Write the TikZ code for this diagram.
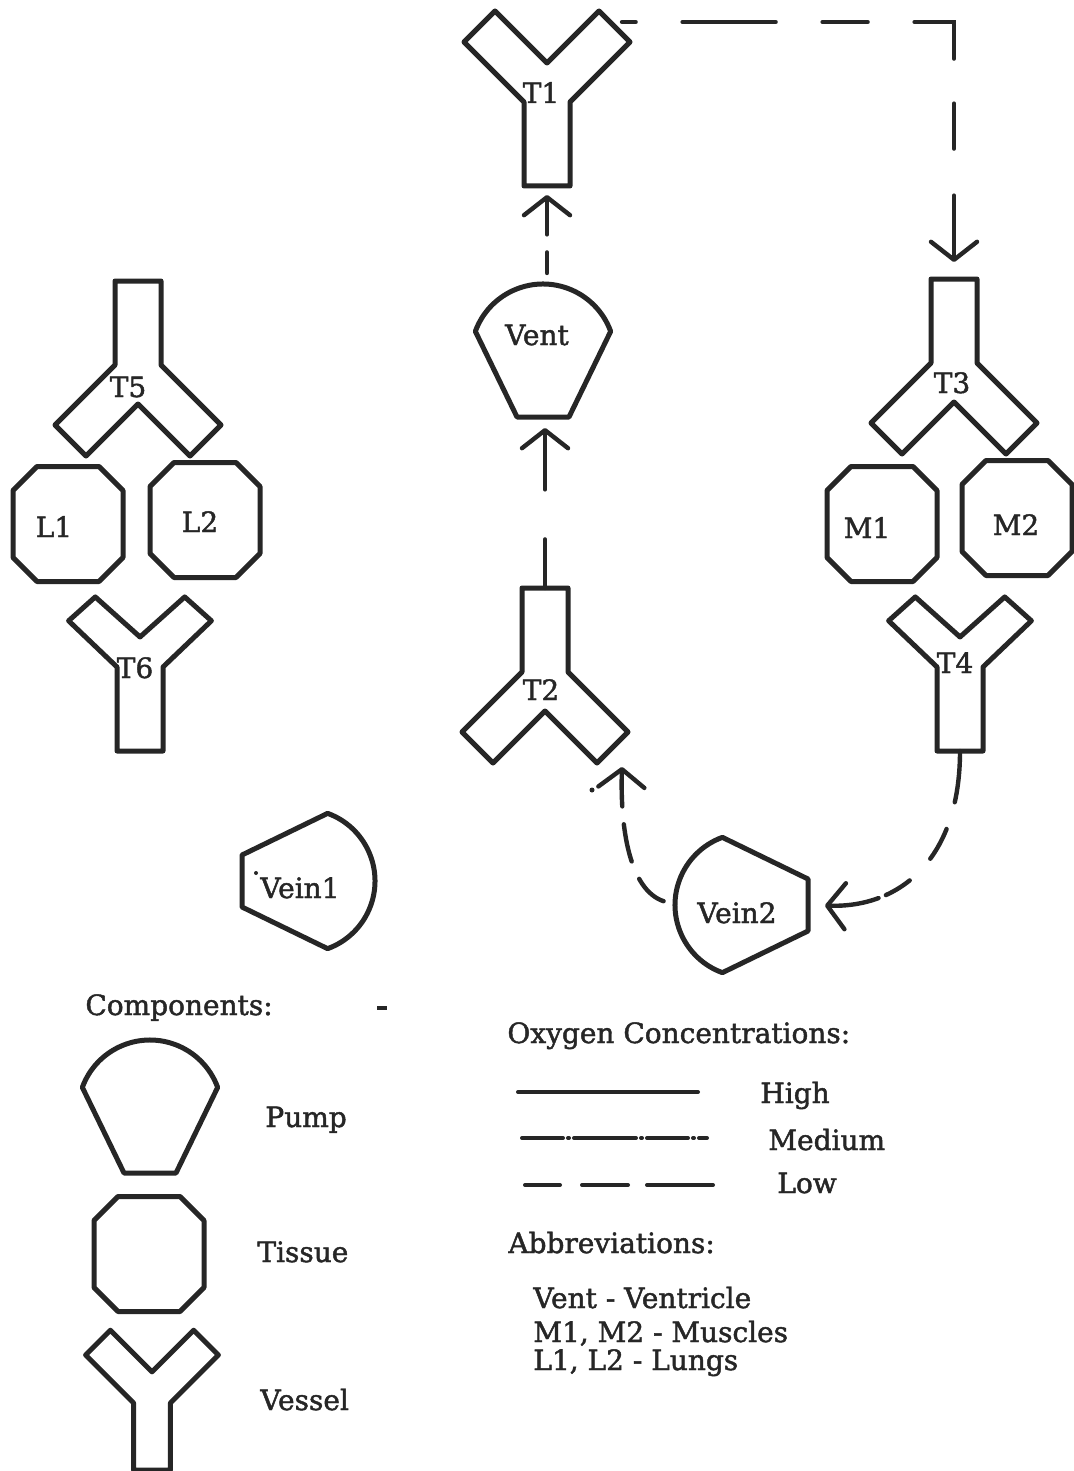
\documentclass[tikz,border=0pt]{standalone}
\usepackage{fontspec}
\setmainfont{DejaVu Serif}[BoldFont={DejaVu Serif}, BoldFeatures={FakeBold=1.6}]
\usetikzlibrary{arrows.meta,calc}
\definecolor{ink}{HTML}{262626}
\tikzset{
  outline/.style={draw=ink, line width=2.5pt, line join=round, line cap=round},
  flow/.style={draw=ink, line width=2.2pt, line cap=round},
  back/.style={arrows={Straight Barb[length=9pt,width=23pt,round]-}},
  lbl/.style={inner sep=0pt, anchor=base, text=ink, font=\fontsize{14pt}{16pt}\selectfont\bfseries},
  txt/.style={inner sep=0pt, anchor=base west, text=ink, font=\fontsize{14pt}{16pt}\selectfont\bfseries},
  % Y-shaped vessel; #1, #2 stretch the two arms horizontally and vertically
  pics/vessel/.style 2 args={code={
    \path[outline] (-23,0) -- ({-83*#1},{-60*#2}) -- ({-52*#1},{-91*#2}) -- (0,{-39*#2})
      -- ({52*#1},{-91*#2}) -- ({83*#1},{-60*#2}) -- (23,0) -- (23,84) -- (-23,84) -- cycle;
    \coordinate (-foot) at (0,84);
    \coordinate (-rarm) at ({68*#1},{-76*#2});
  }},
  % octagonal tissue block
  pics/tissue/.style={code={
    \path[outline] (-31,-57.5) -- (31,-57.5) -- (55,-33.5) -- (55,33.5) -- (31,57.5)
      -- (-31,57.5) -- (-55,33.5) -- (-55,-33.5) -- cycle;
  }},
  % pump: rounded dome on a tapering base
  pics/pump/.style={code={
    \path[outline] (200:72) arc[start angle=200, end angle=340, radius=72]
      -- (26,61) -- (-26,61) -- cycle;
    \coordinate (-top) at (0,-72);
    \coordinate (-base) at (0,61);
  }},
}
\begin{document}
\begin{tikzpicture}[x=0.5pt,y=-0.5pt]
\fill[white] (0,0) rectangle (1074,1471);
\useasboundingbox (0,0) rectangle (1074,1471);

% ---- vessels
\pic (T1) at (547,102) {vessel={1}{1}};
\pic[yscale=-1] (T5) at (138,365) {vessel={1}{1}};
\pic[yscale=-1] (T3) at (954,363) {vessel={1}{1}};
\pic[yscale=-1] (T2) at (545,672) {vessel={1}{1}};
\pic (T6) at (140,667) {vessel={0.86}{0.77}};
\pic (T4) at (960,667) {vessel={0.86}{0.77}};

% ---- tissues
\pic (L1) at (68,524) {tissue};
\pic (L2) at (205,520) {tissue};
\pic (M1) at (882,524) {tissue};
\pic (M2) at (1017,518) {tissue};

% ---- pumps
\pic (Vent) at (543,356) {pump};
\pic[rotate=-90] (Vein1) at (303,881) {pump};
\pic[rotate=90] (Vein2) at (747,905) {pump};

% ---- labels
\node[lbl] (T1) at (541,103) {T1};
\node[lbl] (T5) at (128,397) {T5};
\node[lbl] (L1) at (54,537) {L1};
\node[lbl] (L2) at (200,532) {L2};
\node[lbl] (T6) at (135,678) {T6};
\node[lbl] (T3) at (952,393) {T3};
\node[lbl] (M1) at (867,538) {M1};
\node[lbl] (M2) at (1016,535) {M2};
\node[lbl] (T4) at (955,673) {T4};
\node[lbl] (T2) at (541,700) {T2};
\node[lbl] (Vent) at (537,345) {Vent};
\node[lbl] (Vein1) at (300,898) {Vein1};
\node[lbl] (Vein2) at (737,923) {Vein2};

% ---- connector end points
\coordinate (T1-out) at ($(T1-rarm)+(7,-4)$);
\coordinate (T2-in) at ($(T2-rarm)+(9,19)$);

% ---- flow connectors
% Vent -> T1 (low)
\draw[flow, back, dash pattern=on 17.5pt off 9pt on 12.5pt off 50pt,
      shorten <=4.5pt, shorten >=5.5pt] (T1-foot) -- (T1-foot |- Vent-top);
% T2 -> Vent (medium)
\draw[flow, back, dash pattern=on 28.5pt off 25pt, shorten <=5.5pt]
      (T2-foot |- Vent-base) -- (T2-foot);
% T1 -> T3 (low)
\draw[flow, back, shorten <=8.5pt, dash pattern=on 31pt off 23.5pt on 22.5pt off 22.5pt
      on 38pt off 23.5pt on 22.5pt off 23.5pt on 46.5pt off 23.5pt on 10.5pt off 50pt]
      (T3-foot) -- (T3-foot |- T1-out) -- (T1-out);
% T4 -> Vein2 (low)
\draw[flow, back, shorten <=8.5pt, dash pattern=on 25pt off 4pt on 14pt off 15pt
      on 17pt off 14pt on 30pt off 20pt]
      (Vein2-base) .. controls ($(Vein2-base)+(92,3)$) and ($(T4-foot)+(0,108)$) .. (T4-foot);
% Vein2 -> T2 (low)
\draw[flow, back, shorten >=6pt, dash pattern=on 17.5pt off 9pt on 19pt off 9.5pt on 20pt off 30pt]
      (T2-in) .. controls ($(T2-in)+(-2,63)$) and ($(Vein2-top)+(-45,-15)$) .. (Vein2-top);
\fill[ink] (592,790) circle[radius=2.5];
\fill[ink] (256,873) circle[radius=2];

% ---- components legend
\node[txt] (comp) at (85,1015) {Components:};
\draw[ink, line width=2pt] (377,1008) -- (387,1008);
\pic (pumpkey) at (150,1112) {pump};
\pic (tissuekey) at (149,1254) {tissue};
\pic[scale=0.8] (vesselkey) at (152,1403) {vessel={1}{1}};
\node[txt] (pumpname) at (265,1127) {Pump};
\node[txt] (tissuename) at (257,1262) {Tissue};
\node[txt] (vesselname) at (260,1410) {Vessel};

% ---- oxygen legend
\node[txt] (oxy) at (507,1043) {Oxygen Concentrations:};
\draw[flow, line width=2pt] (518,1092) -- (698,1092);
\draw[flow, line width=2pt, dash pattern=on 20.5pt off 2.5pt on 0.5pt off 2.5pt on 31pt off 2.5pt on 0.5pt off 2.5pt]
      (522,1138) -- (707,1138);
\draw[flow, line width=2pt, dash pattern=on 17.5pt off 11pt on 23pt off 9.5pt on 33pt off 20pt]
      (525,1185) -- (713,1185);
\node[txt] (high) at (760,1103) {High};
\node[txt] (medium) at (768,1150) {Medium};
\node[txt] (low) at (777,1193) {Low};

% ---- abbreviations
\node[txt] (abbr) at (508,1253) {Abbreviations:};
\node[txt] (ab1) at (533,1308) {Vent - Ventricle};
\node[txt] (ab2) at (533,1342) {M1, M2 - Muscles};
\node[txt] (ab3) at (533,1370) {L1, L2 - Lungs};
\end{tikzpicture}
\end{document}
